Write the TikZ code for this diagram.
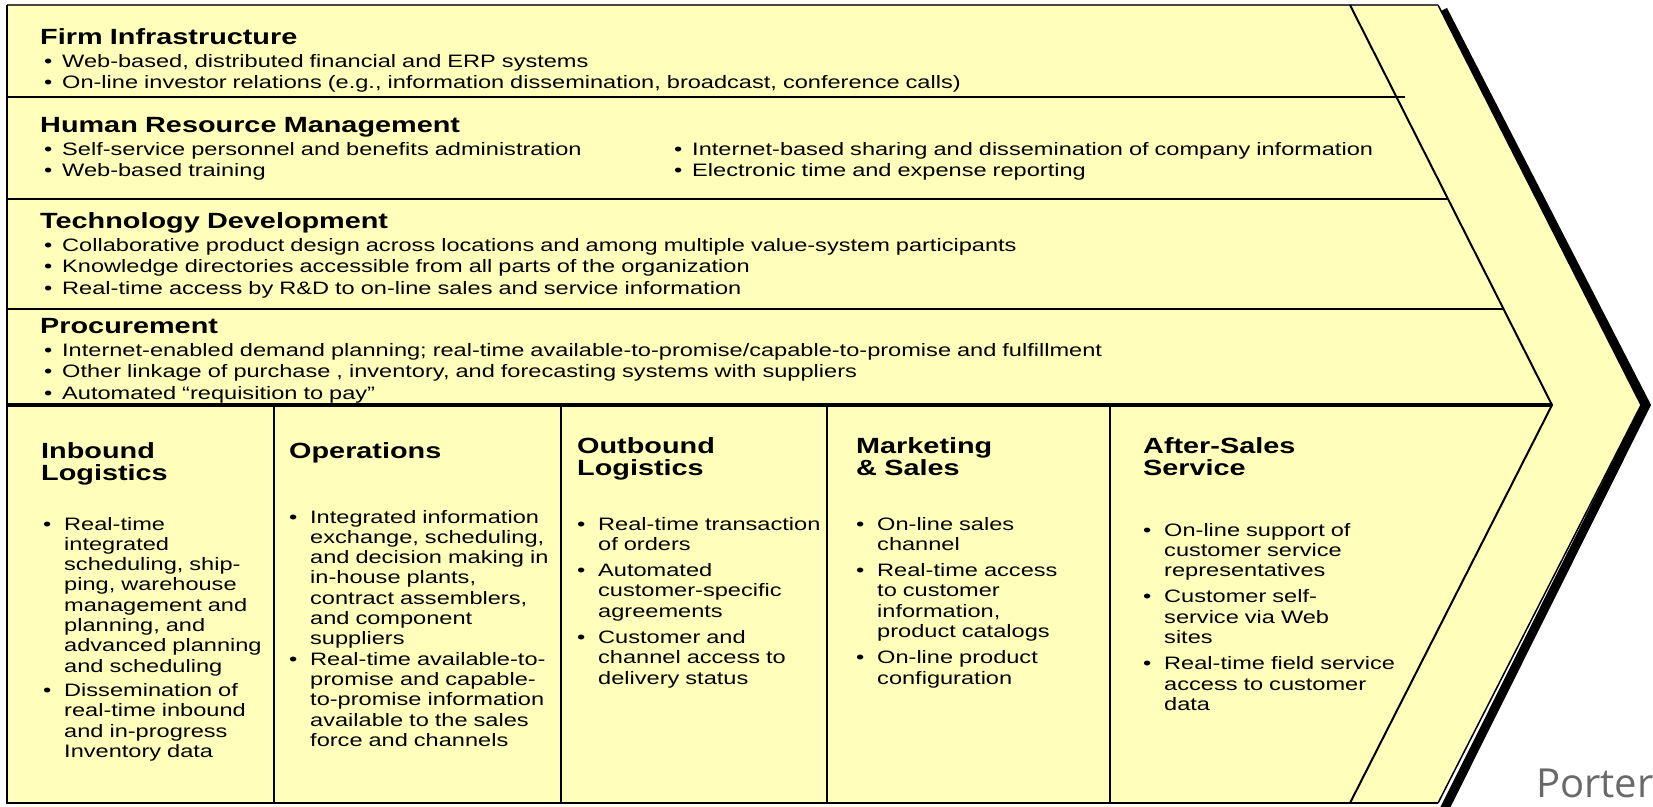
\documentclass[tikz,border=0pt]{standalone}
\usepackage{fontspec}
\setmainfont{Liberation Sans}[FakeStretch=1.31]
\newfontfamily\creditfont{Open Sans}
\definecolor{chain}{RGB}{255,255,187}
\definecolor{credit}{RGB}{105,105,105}
\definecolor{rim}{RGB}{70,70,70}
% bullets: rows above, columns below
\newcommand{\bul}{\makebox[18pt][l]{\textbullet}}
\newcommand{\ind}{\hspace*{18pt}}
\newcommand{\cbul}{\makebox[21pt][l]{\textbullet}}
\newcommand{\cind}{\hspace*{21pt}}

\begin{document}
\begin{tikzpicture}[x=1pt,y=-1pt,line join=miter,
  head/.style={anchor=base west,inner sep=0,text width=420pt,align=left,font=\bfseries\fontsize{22}{22}\selectfont},
  items/.style={anchor=base west,inner sep=0,text width=1150pt,align=left,font=\fontsize{18}{21.5}\selectfont},
  colitems/.style={items,text width=300pt,font=\fontsize{18}{20.3}\selectfont},
  rowline/.style={line width=2pt},
  colline/.style={line width=2.6pt}]
\useasboundingbox (0,0) rectangle (1653,806);

\coordinate (nw) at (7,5);
\coordinate (ne) at (1438,5);
\coordinate (tip) at (1641,405);
\coordinate (se) at (1438,803);
\coordinate (sw) at (7,803);
\coordinate (in) at (1350,5);
\coordinate (itip) at (1552,405);
\coordinate (is) at (1350,803);

% shadow of the arrow head
\draw[line width=9pt] (1443,10) -- (1646,405) -- (1443,812);
\fill[chain] (nw) -- (ne) -- (tip) -- (se) -- (sw) -- cycle;
\draw[line width=1.5pt] (ne) -- (tip) -- (se);
\draw[rim,line width=2pt] (nw) -- (ne);
\draw[line width=2pt] (nw) -- (sw) -- (se);

% support activities
\draw[rowline] (7,97) -- (1405,97);
\draw[rowline] (7,199) -- (1448,199);
\draw[rowline] (7,309) -- (1503,309);
\draw[line width=4pt] (7,405) -- (itip);
\draw[line width=2pt] (in) -- (itip) -- (is);

% primary activities
\draw[colline] (274,405) -- (274,803);
\draw[colline] (561,405) -- (561,803);
\draw[colline] (827,405) -- (827,803);
\draw[colline] (1110,405) -- (1110,803);

\node[head] (firm) at (40,44) {Firm Infrastructure};
\node[items] (firmitems) at (44,67) {\bul Web-based, distributed financial and ERP systems\\
  \bul On-line investor relations (e.g., information dissemination, broadcast, conference calls)};

\node[head] (hrm) at (40,132) {Human Resource Management};
\node[items,text width=600pt] (hrmleft) at (44,155) {\bul Self-service personnel and benefits administration\\
  \bul Web-based training};
\node[items,text width=760pt] (hrmright) at (674,155) {\bul Internet-based sharing and dissemination of company information\\
  \bul Electronic time and expense reporting};

\node[head] (tech) at (40,228) {Technology Development};
\node[items] (techitems) at (44,251) {\bul Collaborative product design across locations and among multiple value-system participants\\
  \bul Knowledge directories accessible from all parts of the organization\\
  \bul Real-time access by R\&D to on-line sales and service information};

\node[head] (proc) at (40,333) {Procurement};
\node[items] (procitems) at (44,356) {\bul Internet-enabled demand planning; real-time available-to-promise/capable-to-promise and fulfillment\\
  \bul Other linkage of purchase , inventory, and forecasting systems with suppliers\\
  \bul Automated “requisition to pay”};

\node[head] (inbound) at (41,458) {Inbound\\Logistics};
\node[colitems] (inbounditems) at (43,530) {\cbul Real-time\\ \cind integrated\\ \cind scheduling, ship-\\
  \cind ping, warehouse\\ \cind management and\\ \cind planning, and\\ \cind advanced planning\\
  \cind and scheduling\\[4pt]
  \cbul Dissemination of\\ \cind real-time inbound\\ \cind and in-progress\\ \cind Inventory data};

\node[head] (ops) at (289,458) {Operations};
\node[colitems] (opsitems) at (289,523) {\cbul Integrated information\\ \cind exchange, scheduling,\\
  \cind and decision making in\\ \cind in-house plants,\\ \cind contract assemblers,\\
  \cind and component\\ \cind suppliers\\
  \cbul Real-time available-to-\\ \cind promise and capable-\\ \cind to-promise information\\
  \cind available to the sales\\ \cind force and channels};

\node[head] (outbound) at (577,453) {Outbound\\Logistics};
\node[colitems] (outbounditems) at (577,530) {\cbul Real-time transaction\\ \cind of orders\\[6pt]
  \cbul Automated\\ \cind customer-specific\\ \cind agreements\\[6pt]
  \cbul Customer and\\ \cind channel access to\\ \cind delivery status};

\node[head] (market) at (856,453) {Marketing\\\& Sales};
\node[colitems] (marketitems) at (856,530) {\cbul On-line sales\\ \cind channel\\[6pt]
  \cbul Real-time access\\ \cind to customer\\ \cind information,\\ \cind product catalogs\\[6pt]
  \cbul On-line product\\ \cind configuration};

\node[head] (service) at (1143,453) {After-Sales\\Service};
\node[colitems] (serviceitems) at (1143,536) {\cbul On-line support of\\ \cind customer service\\
  \cind representatives\\[6pt]
  \cbul Customer self-\\ \cind service via Web\\ \cind sites\\[6pt]
  \cbul Real-time field service\\ \cind access to customer\\ \cind data};

\node[anchor=base west,inner sep=0,text=credit,font=\creditfont\fontsize{40}{40}\selectfont] (porter) at (1536,797) {Porter};
\end{tikzpicture}
\end{document}
